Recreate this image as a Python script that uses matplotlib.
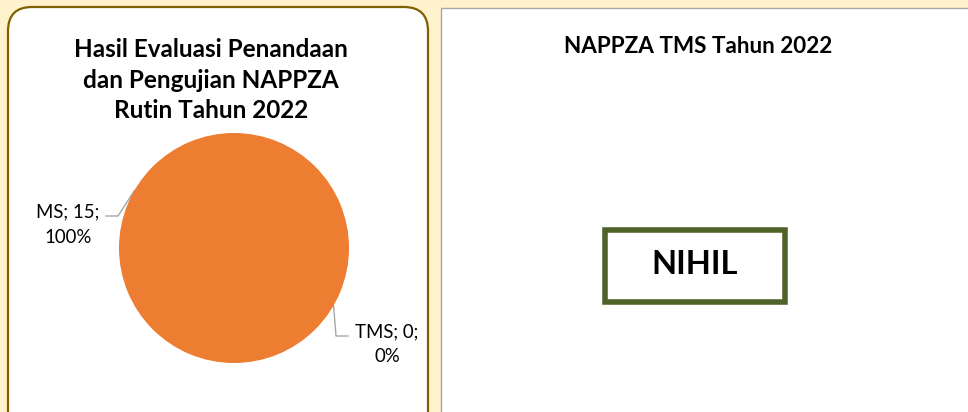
import matplotlib
matplotlib.use("Agg")
import matplotlib.pyplot as plt
from matplotlib.patches import FancyBboxPatch, Rectangle
import math

# ---- data ----
categories = ["MS", "TMS"]
values = [15, 0]
left_title = "Hasil Evaluasi Penandaan\ndan Pengujian NAPPZA\nRutin Tahun 2022"
right_title = "NAPPZA TMS Tahun 2022"
right_text = "NIHIL"

W, H = 968, 412
DPI = 100
FONT = ["Lato", "DejaVu Sans"]
plt.rcParams['font.family'] = FONT

fig = plt.figure(figsize=(W / DPI, H / DPI), dpi=DPI)
fig.patch.set_facecolor("#FFF2CC")

# background axes in pixel coordinates (y downward)
bg = fig.add_axes([0, 0, 1, 1])
bg.set_xlim(0, W)
bg.set_ylim(H, 0)
bg.axis("off")

# left rounded panel
bg.add_patch(FancyBboxPatch((8, 7), 420, 440, boxstyle="round,pad=0,rounding_size=24",
                            facecolor="white", edgecolor="#7F6000", linewidth=1.6))
# right panel
bg.add_patch(Rectangle((441, 8), 540, 440, facecolor="white", edgecolor="#A6A6A6", linewidth=1.0))

# titles
bg.text(211, 80, left_title, ha="center", va="center", fontsize=17.5, fontweight="bold",
        linespacing=1.42, color="black")
bg.text(698, 46, right_title, ha="center", va="center", fontsize=16.2, fontweight="bold", color="black")

# NIHIL box
bg.add_patch(Rectangle((605, 230), 180, 72, facecolor="white", edgecolor="#4F6228", linewidth=4))
bg.text(695, 264, right_text, ha="center", va="center", fontsize=23.5, fontweight="bold", color="black")

# pie
cx, cy, r = 234, 248, 115
pax = fig.add_axes([(cx - r) / W, (H - cy - r) / H, 2 * r / W, 2 * r / H])
total = sum(values)
pax.pie(values, colors=["#ED7D31", "#A5A5A5"], startangle=90, counterclock=False,
        wedgeprops=dict(linewidth=0))
pax.set_xlim(-1, 1)
pax.set_ylim(-1, 1)
pax.axis("off")

# data labels with leader lines
def edge(angle_deg):
    a = math.radians(angle_deg)
    return cx + r * math.cos(a), cy - r * math.sin(a)

lc = "#A6A6A6"
LFS = 13.4
ex, ey = edge(150)
bg.plot([ex, 118, 106], [ey, 216, 216], color=lc, lw=1)
bg.text(68, 212, f"{categories[0]}; {values[0]};", ha="center", va="center", fontsize=LFS)
bg.text(68, 237, f"{round(100 * values[0] / total)}%", ha="center", va="center", fontsize=LFS)

ex, ey = edge(-30)
bg.plot([ex, 336, 348], [ey, 336, 336], color=lc, lw=1)
bg.text(387, 332, f"{categories[1]}; {values[1]};", ha="center", va="center", fontsize=LFS)
bg.text(387, 357, f"{round(100 * values[1] / total)}%", ha="center", va="center", fontsize=LFS)

fig.savefig("out.png", dpi=DPI, facecolor=fig.get_facecolor())
